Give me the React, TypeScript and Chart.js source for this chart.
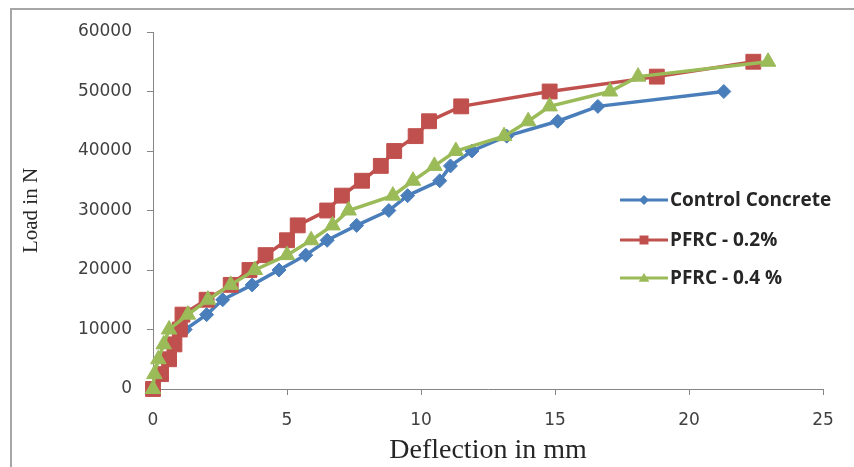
import React, { useEffect, useRef } from "react";
import { Chart, registerables } from "chart.js";

Chart.register(...registerables);

const seriesNames = ["Control Concrete", "PFRC - 0.2%", "PFRC - 0.4 %"];
const seriesColors = ["#4A7EBB", "#C0504D", "#9BBB59"];

const controlX = [0, 0.3, 0.5, 0.8, 1.2, 2.0, 2.6, 3.7, 4.7, 5.7, 6.5, 7.6, 8.8, 9.5, 10.7, 11.1, 11.9, 13.2, 15.1, 16.6, 21.3];
const controlY = [0, 2500, 5000, 7500, 10000, 12500, 15000, 17500, 20000, 22500, 25000, 27500, 30000, 32500, 35000, 37500, 40000, 42500, 45000, 47500, 50000];

const pfrc02X = [0, 0.3, 0.6, 0.8, 1.0, 1.1, 2.0, 2.9, 3.6, 4.2, 5.0, 5.4, 6.5, 7.05, 7.8, 8.5, 9.0, 9.8, 10.3, 11.5, 14.8, 18.8, 22.4];
const pfrc02Y = [0, 2500, 5000, 7500, 10000, 12500, 15000, 17500, 20000, 22500, 25000, 27500, 30000, 32500, 35000, 37500, 40000, 42500, 45000, 47500, 50000, 52500, 55000];

const pfrc04X = [0, 0.05, 0.2, 0.4, 0.6, 1.3, 2.05, 2.9, 3.8, 5.0, 5.9, 6.7, 7.3, 8.95, 9.7, 10.5, 11.3, 13.1, 14.0, 14.8, 17.05, 18.1, 22.95];
const pfrc04Y = [0, 2500, 5000, 7500, 10000, 12500, 15000, 17500, 20000, 22500, 25000, 27500, 30000, 32500, 35000, 37500, 40000, 42500, 45000, 47500, 50000, 52500, 55000];

const xTicks = [0, 5, 10, 15, 20, 25];
const yTicks = [0, 10000, 20000, 30000, 40000, 50000, 60000];

const xTitle = "Deflection in mm";
const yTitle = "Load in N";

const pts = (xs: number[], ys: number[]) => xs.map((x, i) => ({ x, y: ys[i] }));

function drawMarker(ctx: CanvasRenderingContext2D, style: string, r: number, x: number, y: number, color: string) {
  ctx.fillStyle = color;
  ctx.beginPath();
  if (style === "rectRot") {
    ctx.moveTo(x, y - r);
    ctx.lineTo(x + r, y);
    ctx.lineTo(x, y + r);
    ctx.lineTo(x - r, y);
  } else if (style === "rect") {
    const s = r * 0.75;
    ctx.rect(x - s, y - s, 2 * s, 2 * s);
  } else {
    const h = r * 0.85;
    ctx.moveTo(x, y - h);
    ctx.lineTo(x + h * 1.05, y + h * 0.75);
    ctx.lineTo(x - h * 1.05, y + h * 0.75);
  }
  ctx.closePath();
  ctx.fill();
}

const legendPlugin = {
  id: "excelLegend",
  afterDraw(chart: any) {
    const ctx = chart.ctx;
    const styles = ["rectRot", "rect", "triangle"];
    const radii = [5, 6, 6];
    const ys = [200, 240, 278];
    ctx.save();
    seriesNames.forEach((name, i) => {
      const y = ys[i];
      ctx.strokeStyle = seriesColors[i];
      ctx.lineWidth = 3;
      ctx.beginPath();
      ctx.moveTo(620, y);
      ctx.lineTo(668, y);
      ctx.stroke();
      drawMarker(ctx, styles[i], radii[i], 644, y, seriesColors[i]);
      ctx.fillStyle = "#262626";
      ctx.font = "bold 19px 'Open Sans'";
      ctx.textAlign = "left";
      ctx.textBaseline = "middle";
      ctx.fillText(name, 670, y + 1);
    });
    ctx.restore();
  },
};

export default function App() {
  const ref = useRef<HTMLCanvasElement | null>(null);

  useEffect(() => {
    if (!ref.current) return;
    const gray = "#868686";
    const mk = (i: number, xs: number[], ys: number[], style: string, r: number, order: number) => ({
      label: seriesNames[i],
      data: pts(xs, ys),
      borderColor: seriesColors[i],
      backgroundColor: seriesColors[i],
      pointStyle: style,
      pointRadius: r,
      pointBorderWidth: 1,
      borderWidth: 3.5,
      showLine: true,
      tension: 0,
      clip: false as any,
      order,
    });
    const chart = new Chart(ref.current, {
      type: "scatter",
      data: {
        datasets: [
          mk(0, controlX, controlY, "rectRot", 7, 2),
          mk(1, pfrc02X, pfrc02Y, "rect", 10.5, 1),
          mk(2, pfrc04X, pfrc04Y, "triangle", 9, 0),
        ] as any,
      },
      options: {
        animation: false,
        responsive: false,
        devicePixelRatio: 1,
        layout: { padding: { top: 32, right: 31, left: 0, bottom: 0 } },
        plugins: {
          legend: { display: false },
          tooltip: { enabled: false },
        },
        scales: {
          x: {
            type: "linear",
            min: 0,
            max: 25,
            afterBuildTicks: (s: any) => {
              s.ticks = xTicks.map((v) => ({ value: v }));
            },
            afterFit: (s: any) => {
              s.height = 78;
            },
            ticks: {
              callback: (v: any) => String(v),
              color: "#404040",
              font: { family: "DejaVu Sans", size: 17 },
              padding: 15,
              maxRotation: 0,
            },
            grid: { drawOnChartArea: false, drawTicks: true, tickLength: 6, color: gray },
            border: { display: true, color: gray, width: 1 },
            title: {
              display: true,
              text: xTitle,
              color: "#262626",
              font: { family: "'Liberation Serif'", size: 28 },
              padding: { top: 0, bottom: 0 },
            },
          },
          y: {
            type: "linear",
            min: 0,
            max: 60000,
            afterBuildTicks: (s: any) => {
              s.ticks = yTicks.map((v) => ({ value: v }));
            },
            afterFit: (s: any) => {
              s.width = 153;
            },
            ticks: {
              callback: (v: any) => String(v),
              color: "#404040",
              font: { family: "DejaVu Sans", size: 17 },
              padding: 15,
            },
            grid: { drawOnChartArea: false, drawTicks: true, tickLength: 6, color: gray },
            border: { display: true, color: gray, width: 1 },
            title: {
              display: true,
              text: yTitle,
              color: "#262626",
              font: { family: "'Liberation Serif'", size: 21 },
              padding: { top: 19, bottom: 0 },
            },
          },
        },
      },
      plugins: [legendPlugin],
    });
    return () => chart.destroy();
  }, []);

  return (
    <div style={{ position: "fixed", left: 0, top: 0, width: 854, height: 467, background: "#fff" }}>
      <div
        style={{
          position: "absolute",
          left: 10,
          top: 8,
          width: 850,
          height: 470,
          borderLeft: "2px solid #a6a6a6",
          borderTop: "2px solid #a6a6a6",
        }}
      />
      <canvas ref={ref} width={854} height={467} style={{ position: "absolute", left: 0, top: 0, width: 854, height: 467 }} />
    </div>
  );
}
